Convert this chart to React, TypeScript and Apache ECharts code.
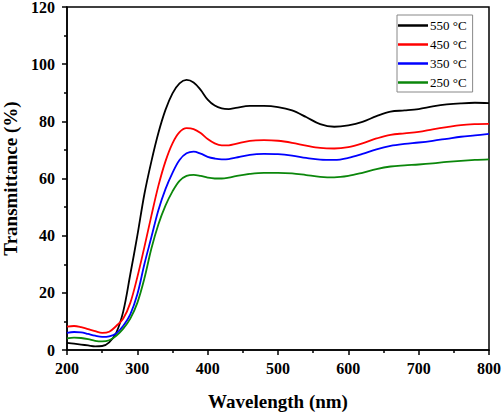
import React, { useEffect, useRef } from "react";
import * as echarts from "echarts";

const wavelengths = [200,210,220,230,240,250,260,270,280,290,300,310,320,330,340,350,360,370,380,390,400,410,420,430,440,460,480,500,520,540,560,580,600,620,640,660,680,700,720,740,760,780,800];

const t550 = [2.5,2.2,1.9,1.6,1.3,1.4,2.7,6,13.5,26.5,40,54.5,66,76,84,89.8,93.3,94.5,93.6,91,87.6,85.5,84.5,84.3,84.7,85.4,85.4,85,83.8,81.5,79,78.1,78.6,79.8,81.8,83.4,83.8,84.3,85.2,85.9,86.3,86.5,86.4];
const t450 = [8.2,8.4,8.0,7.3,6.6,6.0,6.4,8.4,11,16.5,25.5,36,47,57.5,66,72.3,76.2,77.6,77.3,75.9,73.8,72.3,71.6,71.6,72.1,73.2,73.4,73.2,72.5,71.5,70.7,70.5,71,72.3,74,75.3,75.8,76.3,77.2,78,78.7,79,79.1];
const t350 = [6.0,6.3,6.2,5.6,5.0,4.6,4.8,5.8,8.5,12.5,19.5,30,39.5,49,56.3,62,66.5,68.8,69.4,68.7,67.6,67,66.7,66.8,67.3,68.3,68.6,68.5,68,67.2,66.6,66.5,67.2,68.6,70.2,71.4,72.1,72.6,73.2,73.9,74.6,75.1,75.6];
const t250 = [4.1,4.3,4.2,3.8,3.2,3.0,3.4,5,7.5,11,16.5,25,35.5,44,50.5,55.5,59.2,60.9,61.3,60.9,60.3,60,60,60.3,60.8,61.6,62,62,61.8,61.2,60.6,60.4,60.9,62,63.3,64.2,64.6,64.9,65.3,65.8,66.2,66.5,66.7];

const seriesNames = ["550 °C", "450 °C", "350 °C", "250 °C"];
const seriesValues = [t550, t450, t350, t250];
const seriesColors = ["#000000", "#ff0000", "#0000ff", "#0b870b"];

const xTicks = { min: 200, max: 800, interval: 100 };
const yTicks = { min: 0, max: 120, interval: 20 };

const FONT = "'Liberation Serif', 'Times New Roman', serif";

export default function App() {
  const ref = useRef<HTMLDivElement>(null);
  useEffect(() => {
    if (!ref.current) return;
    const chart = echarts.init(ref.current, undefined, { renderer: "svg" });
    const axisLabel = { color: "#000", fontFamily: FONT, fontWeight: "bold", fontSize: 16 };
    chart.setOption({
      animation: false,
      backgroundColor: "#fff",
      grid: {
        left: 67, right: 13, top: 7, bottom: 63,
        containLabel: false,
        outerBoundsMode: "none",
        show: true, borderColor: "#000", borderWidth: 1.5, backgroundColor: "transparent",
      },
      legend: {
        data: seriesNames,
        orient: "vertical",
        left: 397,
        top: 15,
        icon: "rect",
        itemWidth: 30,
        itemHeight: 2.5,
        itemGap: 6,
        padding: [4, 6, 3, 1],
        borderColor: "#888",
        borderWidth: 1,
        textStyle: { color: "#000", fontFamily: FONT, fontSize: 13, padding: [0, 0, 0, -3] },
      },
      xAxis: {
        type: "value",
        min: xTicks.min,
        max: xTicks.max,
        interval: xTicks.interval,
        name: "Wavelength (nm)",
        nameLocation: "middle",
        nameGap: 42,
        nameTextStyle: { color: "#000", fontFamily: FONT, fontWeight: "bold", fontSize: 19 },
        axisLine: { lineStyle: { color: "#000", width: 1.5 } },
        axisTick: { length: 5, lineStyle: { color: "#000", width: 1.5 } },
        minorTick: { show: true, splitNumber: 2, length: 3, lineStyle: { color: "#000", width: 1.5 } },
        splitLine: { show: false },
        axisLabel: { ...axisLabel, margin: 10 },
      },
      yAxis: {
        type: "value",
        min: yTicks.min,
        max: yTicks.max,
        interval: yTicks.interval,
        name: "Transmittance (%)",
        nameLocation: "middle",
        nameGap: 44,
        nameTextStyle: { color: "#000", fontFamily: FONT, fontWeight: "bold", fontSize: 19 },
        axisLine: { lineStyle: { color: "#000", width: 1.5 } },
        axisTick: { length: 5, lineStyle: { color: "#000", width: 1.5 } },
        minorTick: { show: true, splitNumber: 2, length: 3, lineStyle: { color: "#000", width: 1.5 } },
        splitLine: { show: false },
        axisLabel: { ...axisLabel, margin: 12 },
      },
      series: seriesNames.map((name, i) => ({
        name,
        type: "line",
        data: wavelengths.map((w, j) => [w, seriesValues[i][j]]),
        smooth: 0.35,
        showSymbol: false,
        symbol: "none",
        lineStyle: { color: seriesColors[i], width: 1.8 },
        itemStyle: { color: seriesColors[i] },
      })),
    });
    return () => chart.dispose();
  }, []);
  return <div ref={ref} style={{ position: "fixed", left: 0, top: 0, width: 502, height: 413 }} />;
}
